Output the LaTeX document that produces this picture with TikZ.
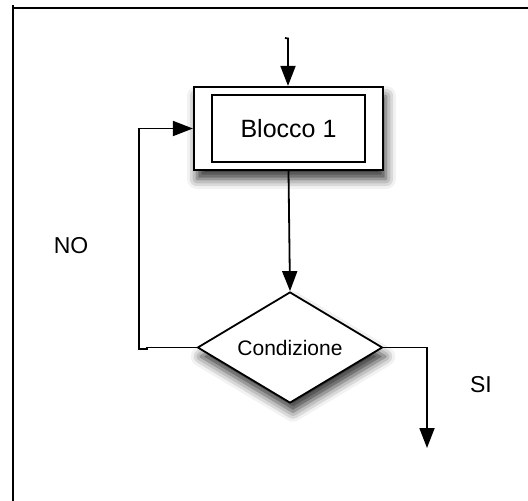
\documentclass[tikz,border=0pt]{standalone}
\usepackage{fontspec}
\setmainfont{Liberation Sans}
\usetikzlibrary{arrows.meta,shapes.geometric,shadows.blur}

\tikzset{
  frameline/.style={line width=2.2pt},
  link/.style={line width=1.8pt},
  arr/.style={link,-{Triangle[length=20pt,width=15pt]}},
  shade/.style={blur shadow={shadow xshift=3pt,shadow yshift=-9pt,shadow blur radius=10pt,shadow opacity=80}},
  outerbox/.style={draw,line width=2.2pt,fill=white,minimum width=189pt,minimum height=83pt,inner sep=0pt,shade},
  innerbox/.style={draw,line width=1.8pt,minimum width=153pt,minimum height=67pt,inner sep=0pt,font=\fontsize{25}{29}\selectfont},
  decision/.style={diamond,draw,line width=1.8pt,fill=white,minimum width=185pt,minimum height=111pt,aspect=1.67,inner sep=0pt,font=\fontsize{21}{25}\selectfont,shade},
  lbl/.style={font=\fontsize{23}{27}\selectfont}
}

\begin{document}
\begin{tikzpicture}[x=1pt,y=-1pt]
  \useasboundingbox (0,0) rectangle (528,501);

  % page frame (top and left edges)
  \coordinate (f0) at (13,5);
  \coordinate (f1) at (13,501);
  \coordinate (f2) at (13,8);
  \coordinate (f3) at (528,8);
  \draw[frameline] (f0) -- (f1);
  \draw[frameline] (f2) -- (f3);

  % block and decision
  \node[outerbox] (blk) at (288.5,128.5) {};
  \node[innerbox] (blkin) at (blk.center) {Blocco 1};
  \node[decision] (dia) at (290,347.5) {Condizione};

  % entry arrow
  \coordinate (in0) at (285,38);
  \coordinate (in1) at (288,38.5);
  \draw[arr] (in0) -- (in1) -- (in1 |- blk.north);

  % block to decision
  \draw[arr] (blk.south) -- (dia.north);

  % loop back (NO)
  \coordinate (l1) at (147,347.5);
  \coordinate (l2) at (147,349);
  \coordinate (l3) at (139,349);
  \coordinate (l4) at (139,128.5);
  \draw[arr] (dia.west) -- (l1) -- (l2) -- (l3) -- (l4) -- (l4 -| blk.west);

  % exit (SI)
  \coordinate (r1) at (427,347.5);
  \coordinate (r2) at (427,448);
  \draw[arr] (dia.east) -- (r1) -- (r2);

  \node[lbl] (no) at (71,246) {NO};
  \node[lbl] (si) at (481,385) {SI};
\end{tikzpicture}
\end{document}
